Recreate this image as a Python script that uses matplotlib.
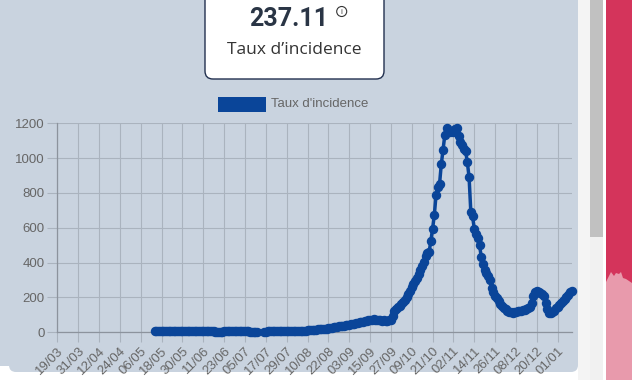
import numpy as np
import pandas as pd
import matplotlib
matplotlib.use('Agg')
import matplotlib.pyplot as plt
from matplotlib.patches import FancyBboxPatch, Rectangle, Circle, Polygon

# daily categories (one point per day) and the tick labels shown every 12 days
dates = pd.date_range('2020-03-19', '2021-01-09', freq='D')
day_labels = [d.strftime('%d/%m') for d in dates]
first_value_date = '2020-05-14'

# taux d'incidence from 14/05/2020 to 09/01/2021, None = no data
incidence = [
    8, 8, 9, 9, 8, 8, 7, 7, 7, 6,
    6, 6, 6, 5, 5, 5, 5, 6, 6, 6,
    6, 7, 7, 8, 8, 8, 7, 7, 6, 6,
    6, 5, 5, 5, 5, 4, 4, 4, 4, 4,
    5, 5, 5, 5, 5, 6, 6, 6, 5, 5,
    5, 5, 5, 5, 5, 4, 4, 4, 4, 3,
    None, None, None,
    4, 4, 5, 5, 5, 6, 6, 6, 6, 7, 7, 7, 7, 8, 8, 8, 8, 8, 9, 9, 9, 9,
    9, 10, 10, 11, 12, 13, 14, 15, 16, 17, 18, 19, 20, 20, 21, 22, 24, 26, 28, 30,
    32, 34, 36, 37, 39, 40, 42, 44, 46, 48, 50, 53, 55, 57, 59, 62, 64, 66, 69, 71,
    72, 74, 72, 73, 70, 68, 67, 68, 66, 67, 68, 72,
    95, 125, 135, 145, 150, 160, 172, 185, 205, 218, 240, 262, 275, 295, 312, 335,
    360, 380, 405, 440, 455, 462, 525, 595, 675, 790, 835, 852, 965, 1045, 1130, 1175,
    1160, 1148, 1155, 1150, 1165, 1172, 1128, 1090, 1075, 1052, 1040, 976, 890, 690,
    665, 595, 567, 540, 500, 434, 395, 358, 340, 322, 300, 253, 230, 210, 196, 180,
    165, 150, 140, 133, 125, 118, 115, 113, 116, 118, 120, 122, 124, 127, 130, 133,
    140, 148, 168, 210, 230, 236, 233, 225, 218, 210, 168, 135, 112, 108, 115, 122,
    138, 148, 155, 168, 177, 190, 205, 215, 232, 237.11,
]
last_value = '237.11'
title_label = 'Taux d\u2019incidence'
legend_label = "Taux d'incidence"
y_ticks = [0, 200, 400, 600, 800, 1000, 1200]

start = dates.get_loc(pd.Timestamp(first_value_date))
series = pd.Series(np.nan, index=range(len(dates)))
series.iloc[start:start + len(incidence)] = [np.nan if v is None else v for v in incidence]

W, H = 632, 380
fig = plt.figure(figsize=(W / 100, H / 100), dpi=100, facecolor='white')
tr = fig.dpi_scale_trans


def px(x, y):
    return (x / 100, (H - y) / 100)


def rect(x0, y0, x1, y1, color, z=0):
    fig.patches.append(Rectangle(px(x0, y1), (x1 - x0) / 100, (y1 - y0) / 100, transform=tr,
                                 facecolor=color, edgecolor='none', zorder=z))


panel = '#c9d3df'
# page background pieces
fig.patches.append(FancyBboxPatch(px(9, 372), 5.69, 3.9, boxstyle='round,pad=0,rounding_size=0.07',
                                  transform=tr, facecolor=panel, edgecolor='none', zorder=0))
rect(0, 0, 9, 366, panel)
rect(578, 0, 590, 380, '#f4f4f4')
rect(590, 0, 603, 380, '#f1f1f1')
rect(590, 0, 603, 237, '#c1c1c1')
rect(606, 0, 632, 380, '#d4345b')
pink = [px(606, 380), px(606, 282), px(609, 276), px(611, 272), px(614, 276), px(616, 273),
        px(619, 274), px(621, 272), px(623, 278), px(626, 279), px(629, 281), px(632, 283), px(632, 380)]
fig.patches.append(Polygon(pink, closed=True, transform=tr, facecolor='#e89aac', edgecolor='none', zorder=0))

# value card at the top
fig.patches.append(FancyBboxPatch(px(205, 79), 1.79, 1.0, boxstyle='round,pad=0,rounding_size=0.08',
                                  transform=tr, facecolor='white', edgecolor='#22304f', linewidth=1, zorder=1))
fig.text(289 / W, 1 - 19 / H, last_value, ha='center', va='center', fontsize=18, fontweight='bold',
         family='Roboto', color='#2a3545', zorder=2)
fig.patches.append(Circle(px(341.7, 11.5), 0.05, transform=tr, facecolor='none', edgecolor='#333333',
                          linewidth=0.8, zorder=2))
fig.text(341.7 / W, 1 - 11.8 / H, 'i', ha='center', va='center', fontsize=5, color='#333333', zorder=3)
fig.text(294 / W, 1 - 50 / H, title_label, ha='center', va='center', fontsize=12.5,
         family='Open Sans', color='#333333', zorder=2)

# legend
blue = '#0a4599'
rect(218, 97, 266, 112, blue, z=2)
fig.text(271 / W, 1 - 104 / H, legend_label, ha='left', va='center', fontsize=9.5,
         family='Liberation Sans', color='#666666', zorder=2)

# chart
ax = fig.add_axes([57.3 / W, 1 - 332.3 / H, (571.6 - 57.3) / W, (332.3 - 123.3) / H])
ax.set_zorder(5)
ax.set_facecolor('none')
ax.plot(series.index, series.values, color=blue, linewidth=2.5, marker='o', markersize=5.8,
        markerfacecolor=blue, markeredgecolor=blue, zorder=3, clip_on=False)
ax.set_xlim(0, len(dates) - 1)
ax.set_ylim(0, 1200)
tick_pos = list(range(0, len(dates), 12))
ax.set_xticks(tick_pos)
ax.set_xticklabels([day_labels[i] for i in tick_pos], rotation=45, ha='right', rotation_mode='anchor')
ax.set_yticks(y_ticks)
ax.grid(color='#aab3be', linewidth=0.8)
ax.set_axisbelow(True)
ax.tick_params(axis='both', length=7, width=0.8, color='#aab3be', labelsize=9.5, labelcolor='#666666', pad=2)
for lab in ax.get_xticklabels() + ax.get_yticklabels():
    lab.set_family('Liberation Sans')
for s in ['top', 'right']:
    ax.spines[s].set_visible(False)
for s in ['left', 'bottom']:
    ax.spines[s].set_color('#8c939d')
    ax.spines[s].set_linewidth(0.9)

fig.savefig('out.png', dpi=100)
